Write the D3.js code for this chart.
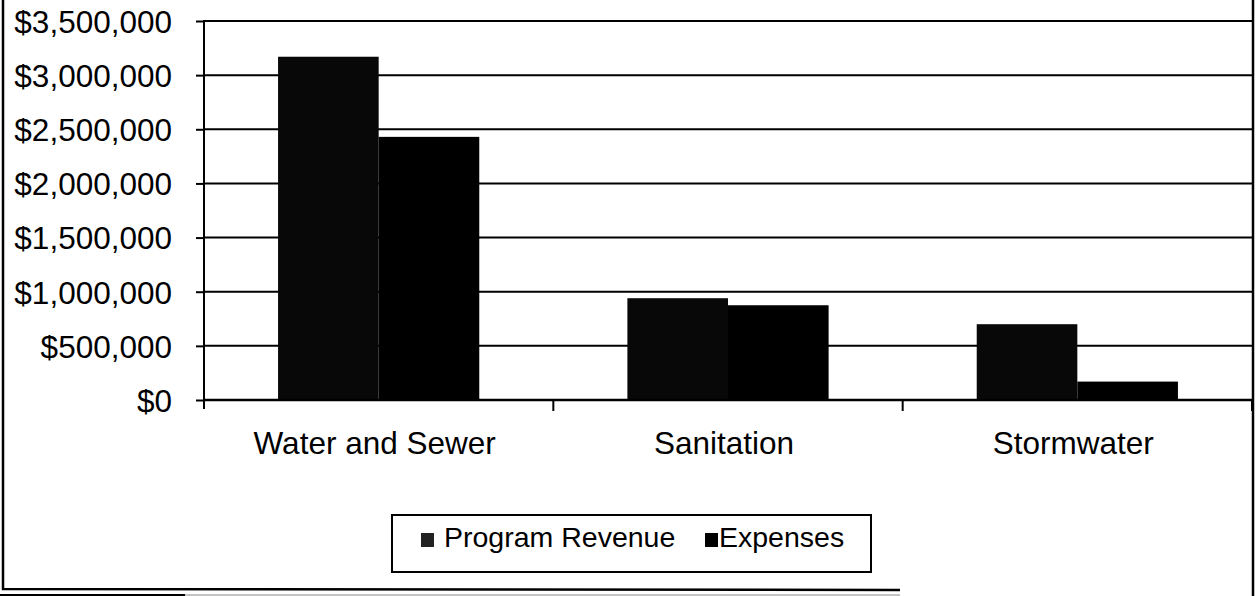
<!DOCTYPE html>
<html>
<head>
<meta charset="utf-8">
<script src="https://cdn.jsdelivr.net/npm/d3@7"></script>
<style>
  html, body { margin: 0; padding: 0; background: #fff; }
  svg { display: block; font-family: "Liberation Sans", Arial, sans-serif; }
</style>
</head>
<body>
<svg id="chart" width="1256" height="596"></svg>
<script>
const categories = ["Water and Sewer", "Sanitation", "Stormwater"];
const seriesNames = ["Program Revenue", "Expenses"];
const programRevenue = [3170000, 940000, 700000];
const expenses = [2430000, 875000, 170000];
const yTicks = [0, 500000, 1000000, 1500000, 2000000, 2500000, 3000000, 3500000];

const seriesValues = [programRevenue, expenses];
const colors = ["#080808", "#000000"];

const svg = d3.select("#chart");
svg.append("rect").attr("width", 1256).attr("height", 596).attr("fill", "#fff");

const plotLeft = 204, plotRight = 1252, plotTop = 21, plotBottom = 400;

const y = d3.scaleLinear().domain([0, 3500000]).range([plotBottom, plotTop]);
const x0 = d3.scaleBand().domain(categories).range([plotLeft, plotRight])
  .paddingInner(0.424).paddingOuter(0.212);
const x1 = d3.scaleBand().domain(seriesNames).range([0, x0.bandwidth()]).padding(0);

// gridlines
svg.append("g").selectAll("line").data(yTicks).join("line")
  .attr("x1", plotLeft).attr("x2", plotRight)
  .attr("y1", d => y(d)).attr("y2", d => y(d))
  .attr("stroke", "#000").attr("stroke-width", 2);

// bars
const groups = svg.append("g").selectAll("g").data(categories).join("g")
  .attr("transform", d => `translate(${x0(d)},0)`);
groups.selectAll("rect")
  .data((d, i) => seriesNames.map((s, j) => ({ s, v: seriesValues[j][i], j })))
  .join("rect")
  .attr("x", d => x1(d.s))
  .attr("width", x1.bandwidth())
  .attr("y", d => y(d.v))
  .attr("height", d => y(0) - y(d.v))
  .attr("fill", d => colors[d.j]);

// y axis
const yAxis = d3.axisLeft(y).tickValues(yTicks).tickSize(8).tickPadding(24)
  .tickFormat(d3.format("$,.0f"));
const gy = svg.append("g").attr("transform", `translate(${plotLeft},0)`).call(yAxis);
gy.select(".domain").remove();
gy.selectAll(".tick line").attr("stroke", "#000").attr("stroke-width", 2);
gy.selectAll(".tick text").attr("fill", "#000").attr("font-size", 31.5)
  .attr("font-family", "Liberation Sans, Arial, sans-serif").attr("dy", "0.36em");
svg.append("line").attr("x1", plotLeft).attr("x2", plotLeft).attr("y1", plotTop - 1).attr("y2", plotBottom + 9)
  .attr("stroke", "#000").attr("stroke-width", 2);

// x axis
svg.append("line").attr("x1", plotLeft).attr("x2", plotRight).attr("y1", plotBottom).attr("y2", plotBottom)
  .attr("stroke", "#000").attr("stroke-width", 2.5);
const boundaries = categories.map((c, i) => plotLeft + x0.step() * (i + 1));
svg.append("g").selectAll("line").data(boundaries).join("line")
  .attr("x1", d => d).attr("x2", d => d).attr("y1", plotBottom).attr("y2", plotBottom + 11)
  .attr("stroke", "#000").attr("stroke-width", 2);
svg.append("g").selectAll("text").data(categories).join("text")
  .attr("x", d => x0(d) + x0.bandwidth() / 2 - 4)
  .attr("y", 454)
  .attr("text-anchor", "middle")
  .attr("font-size", 31.5)
  .attr("fill", "#000")
  .text(d => d);

// outer frame
svg.append("path").attr("d", "M3,0 V589 L900,590")
  .attr("fill", "none").attr("stroke", "#000").attr("stroke-width", 2.5);
svg.append("line").attr("x1", 1253).attr("x2", 1253).attr("y1", 0).attr("y2", 596)
  .attr("stroke", "#000").attr("stroke-width", 2.5);
svg.append("line").attr("x1", 0).attr("x2", 185).attr("y1", 595).attr("y2", 595)
  .attr("stroke", "#000").attr("stroke-width", 2);
svg.append("line").attr("x1", 185).attr("x2", 900).attr("y1", 595).attr("y2", 595)
  .attr("stroke", "#888").attr("stroke-width", 1);

// legend
const lg = svg.append("g");
lg.append("rect").attr("x", 392).attr("y", 515).attr("width", 479).attr("height", 57)
  .attr("fill", "#fff").attr("stroke", "#000").attr("stroke-width", 2);
const legendX = [421, 705];
seriesNames.forEach((s, j) => {
  lg.append("rect").attr("x", legendX[j]).attr("y", 533).attr("width", 13).attr("height", 14)
    .attr("fill", j === 0 ? "#222" : "#000");
  lg.append("text").attr("x", legendX[j] + (j === 0 ? 23 : 14)).attr("y", 547)
    .attr("font-size", 28.5).attr("fill", "#000").text(s);
});
</script>
</body>
</html>
